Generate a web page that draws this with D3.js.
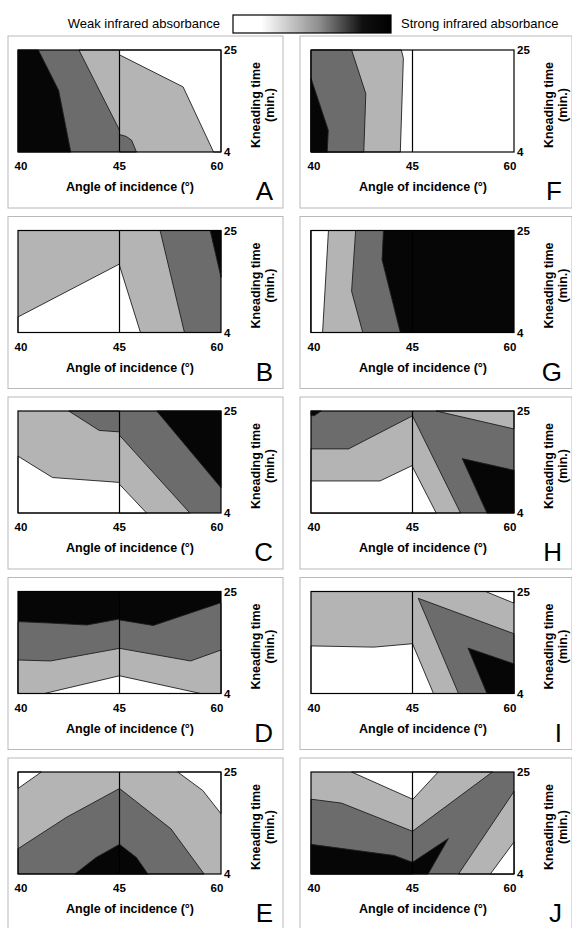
<!DOCTYPE html>
<html>
<head>
<meta charset="utf-8">
<script src="https://cdn.jsdelivr.net/npm/d3@7/dist/d3.min.js"></script>
<style>
  body { margin:0; background:#ffffff; }
  svg { display:block; font-family:"Liberation Sans", Arial, sans-serif; }
</style>
</head>
<body>
<svg id="chart" width="572" height="928"></svg>
<script>
// axis ticks
var angleTicks = [40, 45, 60];
var timeTicks = [25, 4];
var panelNames = ["A","B","C","D","E","F","G","H","I","J"];

// grey levels: 0 = white (weak) .. 3 = black (strong)
// each region: half L (40-45) or R (45-60), level, polygon in [angle, time]
// a region without pts fills the whole half, later regions lie on top
var panelA = [
  {h:"L", lv:2},
  {h:"L", lv:3, pts:[[40,25],[41,25],[42,16.7],[42.6,4],[40,4]]},
  {h:"L", lv:1, pts:[[43,25],[45,25],[45,8.5]]},
  {h:"R", lv:1},
  {h:"R", lv:0, pts:[[45,25],[60,25],[60,4],[58.9,4],[54.4,17.4],[45,24]]},
  {h:"R", lv:2, pts:[[45,7.6],[46,7.2],[46.8,6.4],[47.5,4],[45,4]]}
];
var panelB = [
  {h:"L", lv:1},
  {h:"L", lv:0, pts:[[40,7.2],[45,18.1],[45,4],[40,4]]},
  {h:"R", lv:2},
  {h:"R", lv:1, pts:[[45,25],[51,25],[54.6,4],[45,4]]},
  {h:"R", lv:0, pts:[[45,17.8],[48.1,4],[45,4]]},
  {h:"R", lv:3, pts:[[58.4,25],[60,25],[60,15.4]]}
];
var panelC = [
  {h:"L", lv:1},
  {h:"L", lv:0, pts:[[40,15.7],[41.7,11.3],[45,10.3],[45,4],[40,4]]},
  {h:"L", lv:2, pts:[[42.5,25],[45,25],[45,20.7],[44,21]]},
  {h:"R", lv:2},
  {h:"R", lv:3, pts:[[50.5,25],[60,25],[60,9.2]]},
  {h:"R", lv:1, pts:[[45,20],[55.4,4],[45,4]]},
  {h:"R", lv:0, pts:[[45,9.9],[49,4],[45,4]]}
];
var panelD = [
  {h:"L", lv:3},
  {h:"L", lv:2, pts:[[40,18.8],[41.6,18.5],[43.4,18.1],[45,19.35],[45,4],[40,4]]},
  {h:"L", lv:1, pts:[[40,10.9],[41.6,10.7],[45,13.3],[45,4],[40,4]]},
  {h:"L", lv:0, pts:[[41.3,4],[45,7.65],[45,4]]},
  {h:"R", lv:3},
  {h:"R", lv:2, pts:[[45,19.15],[50,18],[60,22.7],[60,4],[45,4]]},
  {h:"R", lv:1, pts:[[45,13.3],[55.5,10.7],[60,12.95],[60,4],[45,4]]},
  {h:"R", lv:0, pts:[[45,7.65],[57,4],[45,4]]}
];
var panelE = [
  {h:"L", lv:1},
  {h:"L", lv:0, pts:[[40,25],[41.15,25],[40,21.6]]},
  {h:"L", lv:2, pts:[[40,9.2],[42.4,15.7],[45,21.6],[45,4],[40,4]]},
  {h:"L", lv:3, pts:[[42.8,4],[43.85,7.4],[45,10.1],[45,4]]},
  {h:"R", lv:1},
  {h:"R", lv:0, pts:[[53.6,25],[60,25],[60,16.4],[57.3,21.2]]},
  {h:"R", lv:2, pts:[[45,21.6],[52.6,13.3],[57.5,4],[45,4]]},
  {h:"R", lv:3, pts:[[45,10.1],[47.5,7.4],[49.2,4],[45,4]]}
];
var panelF = [
  {h:"L", lv:0},
  {h:"L", lv:1, pts:[[40,25],[44.45,25],[44.55,23.3],[44.4,4],[40,4]]},
  {h:"L", lv:2, pts:[[40,25],[42,25],[42.7,16],[42.6,4],[40,4]]},
  {h:"L", lv:3, pts:[[40,19.2],[40.85,8.5],[40.8,4],[40,4]]},
  {h:"R", lv:0}
];
var panelG = [
  {h:"L", lv:3},
  {h:"L", lv:2, pts:[[40,25],[43.57,25],[43.5,19],[44.4,4],[40,4]]},
  {h:"L", lv:1, pts:[[40,25],[42.2,25],[42,12.5],[42.55,4],[40,4]]},
  {h:"L", lv:0, pts:[[40,25],[40.86,25],[40.57,4],[40,4]]},
  {h:"R", lv:3}
];
var panelH = [
  {h:"L", lv:2},
  {h:"L", lv:3, pts:[[40,25],[40.5,25],[40.15,24],[40,24.1]]},
  {h:"L", lv:1, pts:[[40,17.2],[41.85,17.2],[45,24],[45,4],[40,4]]},
  {h:"L", lv:0, pts:[[40,10.6],[43.4,10.6],[45,13.8],[45,4],[40,4]]},
  {h:"R", lv:2},
  {h:"R", lv:1, pts:[[48.5,25],[60,25],[60,21.3]]},
  {h:"R", lv:1, pts:[[45,24],[52.1,4],[45,4]]},
  {h:"R", lv:0, pts:[[45,13.5],[48.5,4],[45,4]]},
  {h:"R", lv:3, pts:[[52.35,15.2],[60,12.8],[60,4],[56,4]]}
];
var panelI = [
  {h:"L", lv:1},
  {h:"L", lv:0, pts:[[40,13.8],[43.1,13.55],[45,14.25],[45,4],[40,4]]},
  {h:"R", lv:1},
  {h:"R", lv:0, pts:[[55.8,25],[60,25],[60,22.6]]},
  {h:"R", lv:0, pts:[[45,14.25],[48.1,4],[45,4]]},
  {h:"R", lv:2, pts:[[45.85,23.6],[60,16.3],[60,4],[51.8,4]]},
  {h:"R", lv:3, pts:[[53.2,13.35],[60,10.1],[60,4],[56,4]]}
];
var panelJ = [
  {h:"L", lv:1},
  {h:"L", lv:0, pts:[[42,25],[45,25],[45,19.4]]},
  {h:"L", lv:2, pts:[[40,19.4],[41.5,18.6],[45,12.8],[45,4],[40,4]]},
  {h:"L", lv:3, pts:[[40,10.1],[44.1,7.8],[45,6.4],[45,4],[40,4]]},
  {h:"R", lv:2},
  {h:"R", lv:1, pts:[[45,25],[56.8,25],[45,12.8]]},
  {h:"R", lv:0, pts:[[45,25],[48.8,25],[45,19.3]]},
  {h:"R", lv:3, pts:[[45,6.4],[50.3,11.3],[47.3,4],[45,4]]},
  {h:"R", lv:1, pts:[[60,21],[60,4],[51.8,4]]},
  {h:"R", lv:0, pts:[[60,10.6],[60,4],[56.5,4]]}
];
var panelRegions = [panelA, panelB, panelC, panelD, panelE, panelF, panelG, panelH, panelI, panelJ];

var levelColors = ["#ffffff", "#b4b4b4", "#6c6c6c", "#060606"];

var svg = d3.select("#chart");

// ---- legend on top
var defs = svg.append("defs");
var grad = defs.append("linearGradient").attr("id","absGrad");
grad.append("stop").attr("offset","0%").attr("stop-color","#ffffff");
grad.append("stop").attr("offset","18%").attr("stop-color","#ffffff");
grad.append("stop").attr("offset","55%").attr("stop-color","#8c8c8c");
grad.append("stop").attr("offset","82%").attr("stop-color","#101010");
grad.append("stop").attr("offset","100%").attr("stop-color","#000000");

svg.append("text").attr("x",220).attr("y",28)
    .style("font-size","13px").style("text-anchor","end")
    .text("Weak infrared absorbance");
svg.append("rect").attr("x",233).attr("y",15).attr("width",158).attr("height",18)
    .attr("fill","url(#absGrad)").attr("stroke","#000").attr("stroke-width",1.2);
svg.append("text").attr("x",401).attr("y",28)
    .style("font-size","13px").style("text-anchor","start")
    .text("Strong infrared absorbance");

// ---- panels
var plotW = 203, plotH = 102;
var x = d3.scaleLinear().domain([40,45,60]).range([0, plotW/2, plotW]);
var y = d3.scaleLinear().domain([4,25]).range([plotH, 0]);
var line = d3.line().x(function(d){ return x(d[0]); }).y(function(d){ return y(d[1]); });

for (var i = 0; i < panelRegions.length; i++) {
    var col = i < 5 ? 0 : 1;
    var row = i % 5;
    var plotLeft = col == 0 ? 18 : 311;
    var plotTop = 50 + row*180.5;
    var boxX = col == 0 ? 8 : 300;
    var boxW = col == 0 ? 275 : 272;

    svg.append("rect")
        .attr("x", boxX).attr("y", plotTop-14)
        .attr("width", boxW).attr("height", 172)
        .attr("fill","none").attr("stroke","#b9b9b9").attr("stroke-width",1);

    var g = svg.append("g").attr("transform","translate("+plotLeft+","+plotTop+")");

    panelRegions[i].forEach(function(r){
        if (!r.pts) {
            var d0 = r.h == "L" ? 40 : 45, d1 = r.h == "L" ? 45 : 60;
            g.append("rect")
                .attr("x", x(d0)).attr("y", y(25))
                .attr("width", x(d1)-x(d0)).attr("height", y(4)-y(25))
                .attr("fill", levelColors[r.lv]);
        } else {
            g.append("path")
                .attr("d", line(r.pts) + "Z")
                .attr("fill", levelColors[r.lv])
                .attr("stroke","#1e1e1e").attr("stroke-width",0.9)
                .attr("stroke-linejoin","round");
        }
    });

    // frame and 45 degree divider
    g.append("rect").attr("x",0).attr("y",0).attr("width",plotW).attr("height",plotH)
        .attr("fill","none").attr("stroke","#000").attr("stroke-width",1.2);
    g.append("line").attr("x1",x(45)).attr("x2",x(45)).attr("y1",0).attr("y2",plotH)
        .attr("stroke","#000").attr("stroke-width",1.2);

    // x tick labels
    g.selectAll(".xt").data(angleTicks).enter().append("text")
        .attr("x", function(d,k){ return x(d) + (k==0 ? 3 : (k==2 ? -4 : 0)); })
        .attr("y", plotH+18)
        .style("font-size","11.5px").style("font-weight","bold")
        .style("text-anchor","middle")
        .text(function(d){ return d; });

    // y tick labels on the right
    g.selectAll(".yt").data(timeTicks).enter().append("text")
        .attr("x", plotW+3)
        .attr("y", function(d){ return y(d); })
        .attr("dy","0.36em")
        .style("font-size","11.5px").style("font-weight","bold")
        .style("text-anchor","start")
        .text(function(d){ return d; });

    g.append("text")
        .attr("transform","translate("+(plotW+35)+","+(plotH/2+4)+") rotate(-90)")
        .attr("dy","0.35em")
        .style("font-size","12.5px").style("font-weight","bold")
        .style("text-anchor","middle")
        .text("Kneading time");
    g.append("text")
        .attr("transform","translate("+(plotW+49)+","+(plotH/2+4)+") rotate(-90)")
        .attr("dy","0.35em")
        .style("font-size","12.5px").style("font-weight","bold")
        .style("text-anchor","middle")
        .text("(min.)");

    g.append("text")
        .attr("x", 112).attr("y", plotH+39)
        .style("font-size","12.5px").style("font-weight","bold")
        .style("text-anchor","middle")
        .text("Angle of incidence (°)");

    g.append("text")
        .attr("x", boxX+boxW-plotLeft-10).attr("y", plotH+48)
        .style("font-size","26px")
        .style("text-anchor","end")
        .text(panelNames[i]);
}
</script>
</body>
</html>
